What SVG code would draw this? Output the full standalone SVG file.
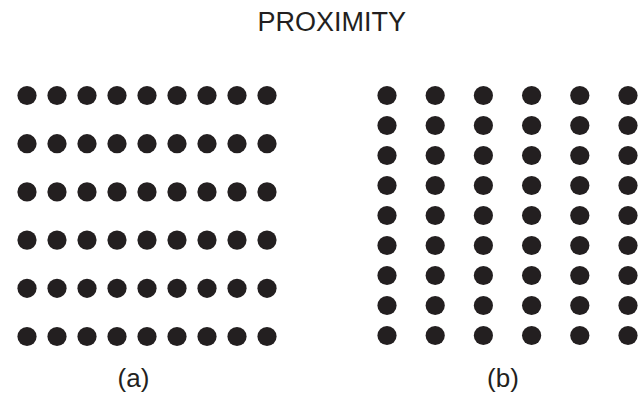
<svg xmlns="http://www.w3.org/2000/svg" xmlns:xlink="http://www.w3.org/1999/xlink" width="644" height="395" viewBox="0 0 644 395">
<style>
.t{font-family:"Liberation Sans",Arial,sans-serif;fill:#231f20;text-anchor:middle}
.d{fill:#231f20}
</style>
<defs>
<circle id="dot" class="d" r="9.6"/>
<g id="rowA">
<use xlink:href="#dot" x="27"/><use xlink:href="#dot" x="57"/><use xlink:href="#dot" x="87"/><use xlink:href="#dot" x="117"/><use xlink:href="#dot" x="147"/><use xlink:href="#dot" x="177"/><use xlink:href="#dot" x="207"/><use xlink:href="#dot" x="237"/><use xlink:href="#dot" x="267"/>
</g>
<g id="colB">
<use xlink:href="#dot" y="95.5"/><use xlink:href="#dot" y="125.5"/><use xlink:href="#dot" y="155.5"/><use xlink:href="#dot" y="185.5"/><use xlink:href="#dot" y="215.5"/><use xlink:href="#dot" y="245.5"/><use xlink:href="#dot" y="275.5"/><use xlink:href="#dot" y="305.5"/><use xlink:href="#dot" y="335.5"/>
</g>
</defs>
<rect width="644" height="395" fill="#fff"/>
<text id="title" class="t" x="331.7" y="31" font-size="27">PROXIMITY</text>
<g id="gridA">
<use xlink:href="#rowA" y="95.5"/>
<use xlink:href="#rowA" y="143.7"/>
<use xlink:href="#rowA" y="191.9"/>
<use xlink:href="#rowA" y="240.1"/>
<use xlink:href="#rowA" y="288.3"/>
<use xlink:href="#rowA" y="336.5"/>
</g>
<g id="gridB">
<use xlink:href="#colB" x="387"/>
<use xlink:href="#colB" x="435.2"/>
<use xlink:href="#colB" x="483.4"/>
<use xlink:href="#colB" x="531.6"/>
<use xlink:href="#colB" x="579.8"/>
<use xlink:href="#colB" x="628"/>
</g>
<text id="labelA" class="t" x="133.5" y="386.5" font-size="26">(a)</text>
<text id="labelB" class="t" x="503" y="386.5" font-size="26">(b)</text>
<g id="connectors"/>
</svg>
